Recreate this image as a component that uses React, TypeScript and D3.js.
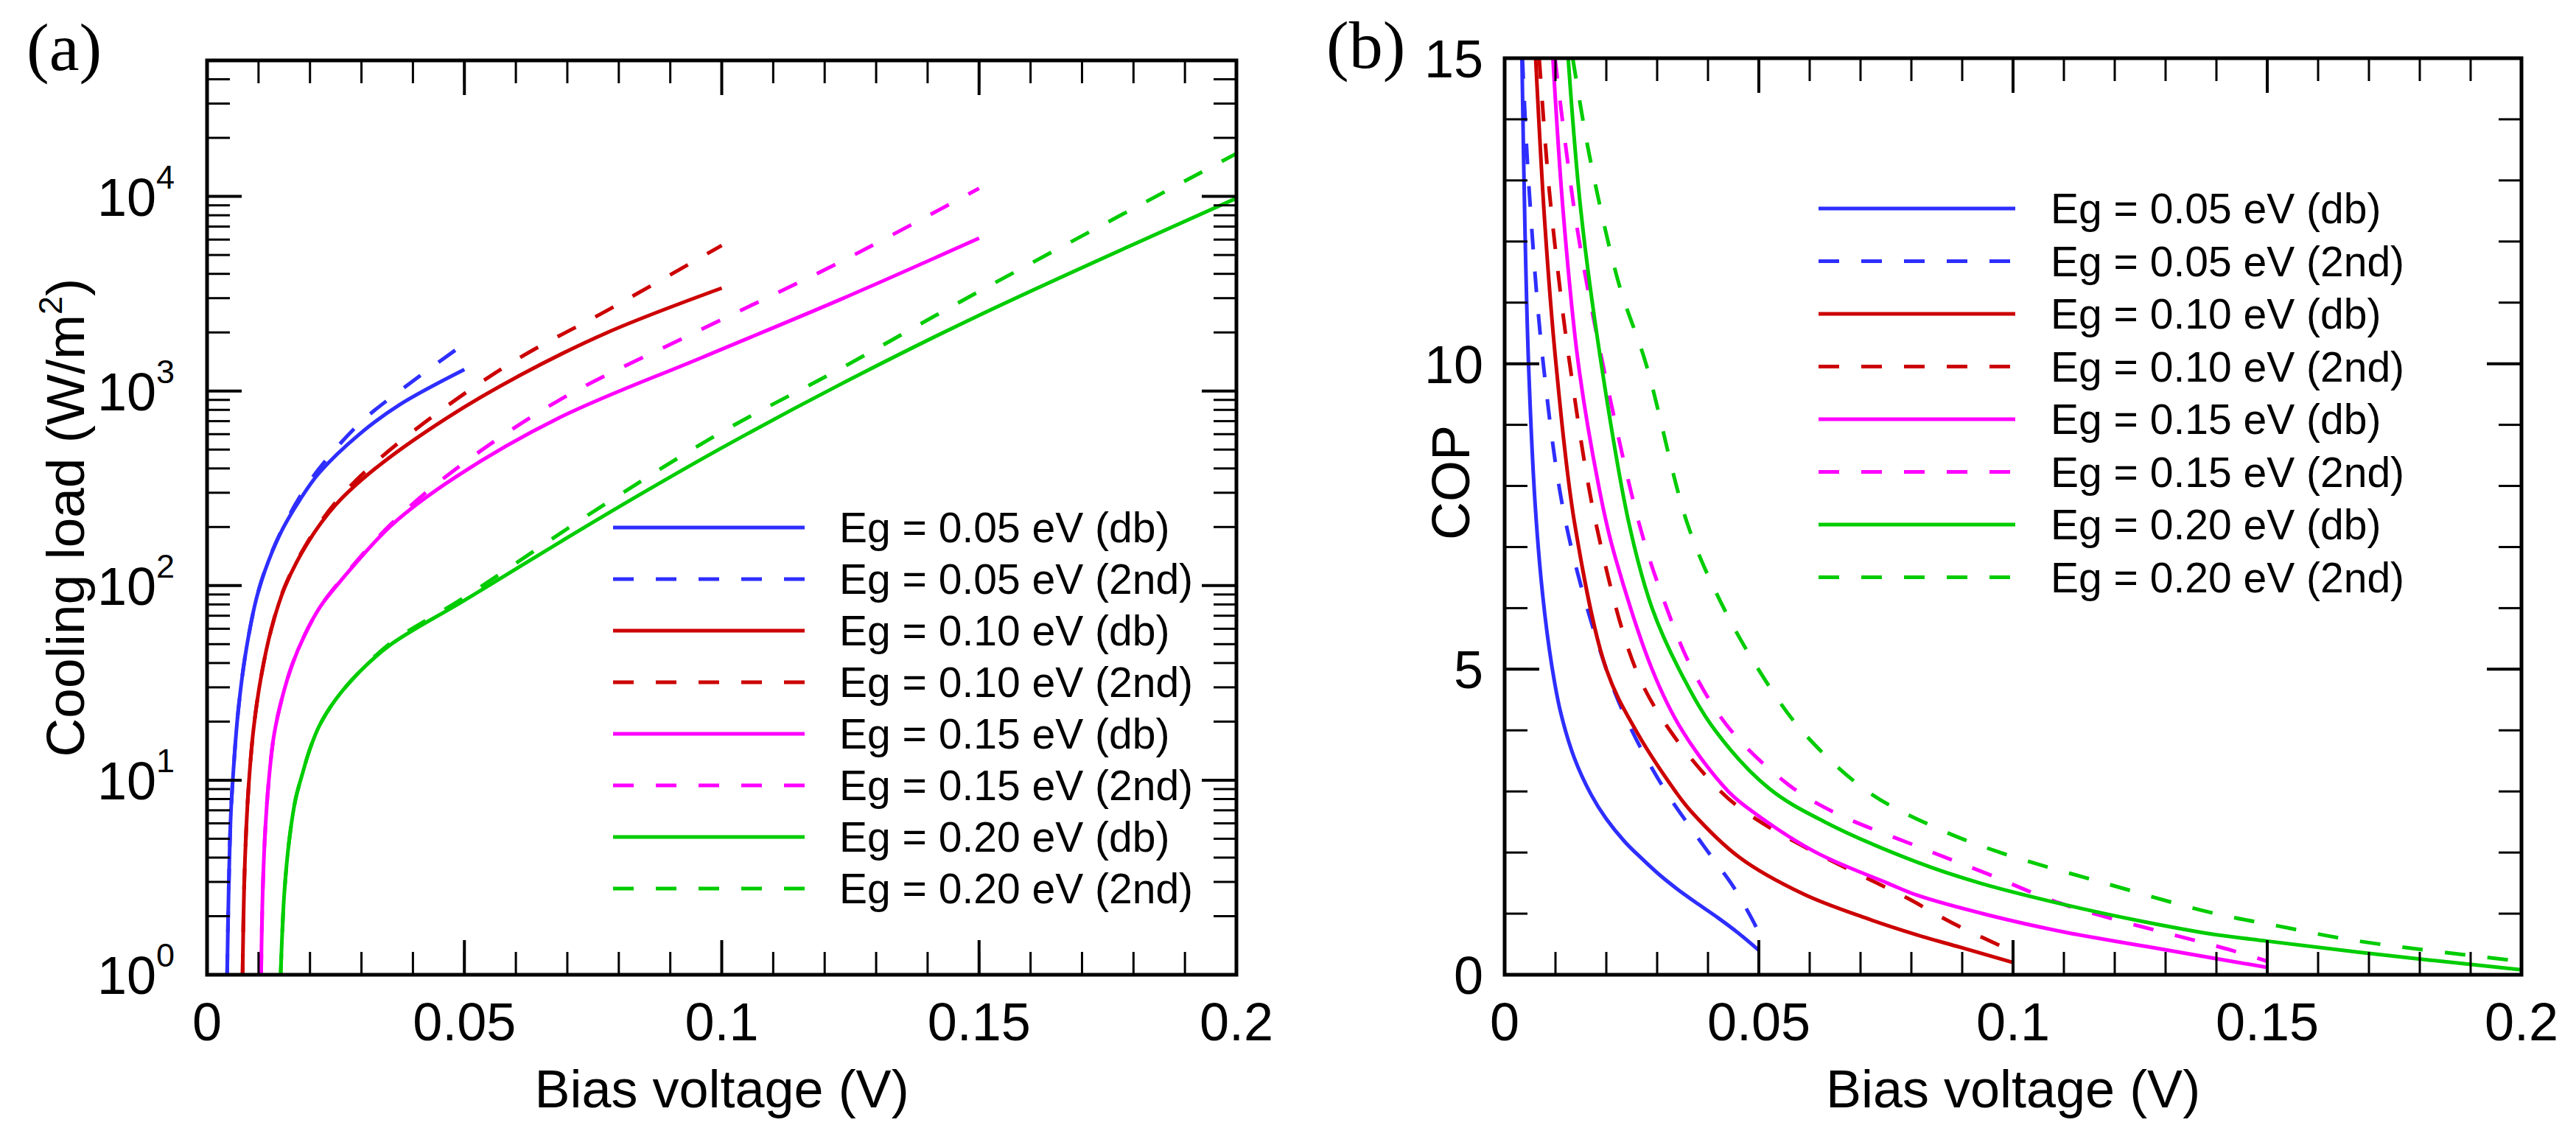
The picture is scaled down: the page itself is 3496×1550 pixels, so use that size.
import React from 'react';
import * as d3 from 'd3';

type Pt = [number, number];

// (a) cooling load (W/m^2) vs bias voltage (V)
const load05db: Pt[] = [[0.0039, 1], [0.0042, 2.7], [0.0046, 6.5], [0.0051, 11], [0.006, 22], [0.0075, 45], [0.0097, 88], [0.012, 135], [0.0148, 198], [0.018, 275], [0.0218, 380], [0.0296, 600], [0.0374, 850], [0.05, 1290]];
const load05nd: Pt[] = [[0.0039, 1], [0.0042, 2.7], [0.0046, 6.5], [0.0051, 11], [0.006, 22], [0.0075, 45], [0.0097, 88], [0.012, 136], [0.0148, 200], [0.018, 285], [0.0218, 400], [0.0296, 680], [0.0374, 1000], [0.05, 1750]];
const load10db: Pt[] = [[0.0069, 1], [0.0072, 2.8], [0.0076, 5.5], [0.0081, 9.5], [0.009, 18], [0.0105, 34], [0.0125, 60], [0.0151, 98], [0.0195, 165], [0.025, 260], [0.0327, 400], [0.0467, 730], [0.0607, 1200], [0.0778, 2000], [0.1, 3380]];
const load10nd: Pt[] = [[0.0069, 1], [0.0072, 2.8], [0.0076, 5.5], [0.0081, 9.5], [0.009, 18], [0.0105, 34], [0.0125, 60], [0.0151, 99], [0.0195, 167], [0.025, 268], [0.0327, 430], [0.0467, 840], [0.0607, 1480], [0.0778, 2600], [0.1, 5600]];
const load15db: Pt[] = [[0.0105, 1], [0.0108, 2.6], [0.0113, 5.5], [0.012, 10], [0.013, 17], [0.0145, 26], [0.0165, 39], [0.019, 56], [0.022, 78], [0.026, 106], [0.0358, 204], [0.0482, 360], [0.0685, 730], [0.0965, 1500], [0.123, 2950], [0.15, 6100]];
const load15nd: Pt[] = [[0.0105, 1], [0.0108, 2.6], [0.0113, 5.5], [0.012, 10], [0.013, 17], [0.0145, 26], [0.0165, 39], [0.019, 56], [0.022, 78], [0.026, 107], [0.0358, 208], [0.0482, 395], [0.0685, 900], [0.0965, 2100], [0.123, 4600], [0.15, 11000]];
const load20db: Pt[] = [[0.0143, 1], [0.015, 2.6], [0.016, 5], [0.0172, 8], [0.0184, 10.5], [0.02, 14.5], [0.0218, 19], [0.025, 26], [0.0296, 36], [0.0358, 50], [0.05, 84], [0.0763, 222], [0.1, 510], [0.123, 1080], [0.15, 2450], [0.2, 9800]];
const load20nd: Pt[] = [[0.0143, 1], [0.015, 2.6], [0.016, 5], [0.0172, 8], [0.0184, 10.5], [0.02, 14.5], [0.0218, 19], [0.025, 26], [0.0296, 36], [0.0358, 51], [0.05, 87], [0.0763, 252], [0.1, 615], [0.123, 1300], [0.15, 3250], [0.2, 16600]];

// (b) COP vs bias voltage (V)
const cop05db: Pt[] = [[0.0034, 15], [0.004, 12.2], [0.0047, 10], [0.006, 7.7], [0.0075, 6.2], [0.0092, 5.1], [0.011, 4.3], [0.0137, 3.55], [0.017, 2.95], [0.02, 2.55], [0.0236, 2.18], [0.027, 1.9], [0.0304, 1.64], [0.034, 1.4], [0.038, 1.16], [0.042, 0.93], [0.046, 0.68], [0.05, 0.4]];
const cop05nd: Pt[] = [[0.0035, 15], [0.0047, 13], [0.0076, 10], [0.0121, 7.37], [0.02, 5], [0.025, 4], [0.0317, 3], [0.037, 2.36], [0.0408, 1.92], [0.045, 1.44], [0.0496, 0.76], [0.05, 0.68]];
const cop10db: Pt[] = [[0.0061, 15], [0.0079, 12.3], [0.0101, 10], [0.0138, 7.37], [0.02, 5], [0.0258, 4], [0.0336, 3], [0.0366, 2.68], [0.0462, 1.92], [0.0588, 1.32], [0.0713, 0.92], [0.0812, 0.65], [0.0896, 0.45], [0.1, 0.2]];
const cop10nd: Pt[] = [[0.0068, 15], [0.0086, 13], [0.0105, 11.5], [0.0128, 10], [0.018, 7.37], [0.0258, 5], [0.0325, 4], [0.0425, 3], [0.0485, 2.6], [0.0588, 2.1], [0.0747, 1.44], [0.0793, 1.25], [0.088, 0.85], [0.1, 0.38]];
const cop15db: Pt[] = [[0.0095, 15], [0.0115, 12.5], [0.0145, 10], [0.0185, 8], [0.0212, 7.0], [0.029, 5], [0.0349, 4], [0.044, 3], [0.0496, 2.62], [0.0613, 2.0], [0.0753, 1.5], [0.0812, 1.3], [0.095, 0.98], [0.11, 0.7], [0.125, 0.48], [0.1388, 0.28], [0.15, 0.12]];
const cop15nd: Pt[] = [[0.0099, 15], [0.0141, 12.3], [0.0193, 10], [0.0265, 7.37], [0.031, 6.2], [0.0369, 5], [0.0445, 4], [0.056, 3.1], [0.065, 2.65], [0.0812, 2.1], [0.095, 1.65], [0.11, 1.15], [0.143, 0.4], [0.15, 0.22]];
const cop20db: Pt[] = [[0.0125, 15], [0.015, 12.5], [0.019, 10], [0.0245, 7.37], [0.029, 6], [0.0343, 5], [0.0414, 4], [0.052, 3.05], [0.063, 2.5], [0.0812, 1.84], [0.0935, 1.5], [0.11, 1.15], [0.125, 0.88], [0.1388, 0.67], [0.15, 0.55], [0.1678, 0.37], [0.2, 0.08]];
const cop20nd: Pt[] = [[0.0134, 15], [0.0167, 13.4], [0.0225, 11.3], [0.0278, 10], [0.036, 7.37], [0.0425, 6.1], [0.0499, 5], [0.0584, 4], [0.0714, 3], [0.085, 2.4], [0.0975, 2], [0.118, 1.5], [0.1388, 1.02], [0.152, 0.8], [0.168, 0.55], [0.2, 0.22]];

const legendLabels = [
  'Eg = 0.05 eV (db)', 'Eg = 0.05 eV (2nd)',
  'Eg = 0.10 eV (db)', 'Eg = 0.10 eV (2nd)',
  'Eg = 0.15 eV (db)', 'Eg = 0.15 eV (2nd)',
  'Eg = 0.20 eV (db)', 'Eg = 0.20 eV (2nd)',
];
const gapColors = ['#2e2eff', '#cc0000', '#ff00ff', '#00cc00'];
const loadSeries = [load05db, load05nd, load10db, load10nd, load15db, load15nd, load20db, load20nd];
const copSeries = [cop05db, cop05nd, cop10db, cop10nd, cop15db, cop15nd, cop20db, cop20nd];

const xMajor = [0, 0.05, 0.1, 0.15, 0.2];
const xTickLabels = ['0', '0.05', '0.1', '0.15', '0.2'];
const logMajor = [1, 10, 100, 1000, 10000];
const logExponents = ['0', '1', '2', '3', '4'];
const copMajor = [0, 5, 10, 15];
const copTickLabels = ['0', '5', '10', '15'];

const SANS = '"Liberation Sans", Arial, sans-serif';
const SERIF = '"Liberation Serif", "Times New Roman", serif';
const DASH = '28 30';

type Box = { left: number; right: number; top: number; bottom: number };
const boxA: Box = { left: 281, right: 1678, top: 82, bottom: 1323 };
const boxB: Box = { left: 2042, right: 3422, top: 79, bottom: 1323 };

const MAJ = 47;
const MIN = 31;

const Frame = ({ box, xs, ys, xMaj, xMin, yMaj, yMin }: {
  box: Box;
  xs: (v: number) => number;
  ys: (v: number) => number;
  xMaj: number[];
  xMin: number[];
  yMaj: number[];
  yMin: number[];
}) => {
  const ticks: React.ReactNode[] = [];
  const push = (k: string, x1: number, y1: number, x2: number, y2: number, w: number) =>
    ticks.push(<line key={k} x1={x1} y1={y1} x2={x2} y2={y2} stroke="#000" strokeWidth={w} />);
  xMin.forEach((v, i) => {
    const x = xs(v);
    push(`xb${i}`, x, box.bottom, x, box.bottom - MIN, 3);
    push(`xt${i}`, x, box.top, x, box.top + MIN, 3);
  });
  xMaj.forEach((v, i) => {
    const x = xs(v);
    push(`Xb${i}`, x, box.bottom, x, box.bottom - MAJ, 4);
    push(`Xt${i}`, x, box.top, x, box.top + MAJ, 4);
  });
  yMin.forEach((v, i) => {
    const y = ys(v);
    push(`yl${i}`, box.left, y, box.left + MIN, y, 3);
    push(`yr${i}`, box.right, y, box.right - MIN, y, 3);
  });
  yMaj.forEach((v, i) => {
    const y = ys(v);
    push(`Yl${i}`, box.left, y, box.left + MAJ, y, 4);
    push(`Yr${i}`, box.right, y, box.right - MAJ, y, 4);
  });
  return (
    <g>
      {ticks}
      <rect x={box.left} y={box.top} width={box.right - box.left} height={box.bottom - box.top}
        fill="none" stroke="#000" strokeWidth={5} />
    </g>
  );
};

const Legend = ({ x0, x1, tx, y0, dy }: { x0: number; x1: number; tx: number; y0: number; dy: number }) => (
  <g>
    {legendLabels.map((lab, i) => {
      const y = y0 + i * dy;
      return (
        <g key={lab}>
          <line x1={x0} x2={x1} y1={y} y2={y} stroke={gapColors[Math.floor(i / 2)]} strokeWidth={5}
            strokeDasharray={i % 2 ? DASH : undefined} />
          <text x={tx} y={y + 20} fontSize={57} fontFamily={SANS}>{lab}</text>
        </g>
      );
    })}
  </g>
);

export default function App() {
  const xa = d3.scaleLinear().domain([0, 0.2]).range([boxA.left, boxA.right]);
  const ya = d3.scaleLog().domain([1, 5e4]).range([boxA.bottom, boxA.top]);
  const xb = d3.scaleLinear().domain([0, 0.2]).range([boxB.left, boxB.right]);
  const yb = d3.scaleLinear().domain([0, 15]).range([boxB.bottom, boxB.top]);

  const xMinor = xa.ticks(20);
  const logMinor: number[] = [];
  logMajor.forEach((d) => d3.range(2, 10).forEach((m) => { if (d * m <= 5e4) logMinor.push(d * m); }));
  const copMinor = yb.ticks(15);

  const smooth = d3.curveCatmullRom.alpha(0.5);
  const lineA = d3.line<Pt>().x((d) => xa(d[0])).y((d) => ya(d[1])).curve(smooth);
  const lineB = d3.line<Pt>().x((d) => xb(d[0])).y((d) => yb(d[1])).curve(smooth);

  return (
    <svg width={3496} height={1550} style={{ position: 'absolute', left: 0, top: 0, background: '#fff' }}>
      <defs>
        <clipPath id="clipA"><rect x={boxA.left} y={boxA.top} width={boxA.right - boxA.left} height={boxA.bottom - boxA.top} /></clipPath>
        <clipPath id="clipB"><rect x={boxB.left} y={boxB.top} width={boxB.right - boxB.left} height={boxB.bottom - boxB.top} /></clipPath>
      </defs>

      {/* panel (a) */}
      <text x={36} y={95} fontSize={92} fontFamily={SERIF}>(a)</text>
      <g clipPath="url(#clipA)">
        {loadSeries.map((s, i) => (
          <path key={i} d={lineA(s) || ''} fill="none" stroke={gapColors[Math.floor(i / 2)]} strokeWidth={5}
            strokeDasharray={i % 2 ? DASH : undefined} />
        ))}
      </g>
      <Frame box={boxA} xs={xa} ys={ya} xMaj={xMajor} xMin={xMinor} yMaj={logMajor} yMin={logMinor} />
      <Legend x0={832} x1={1092} tx={1139} y0={716} dy={70} />
      {xMajor.map((v, i) => (
        <text key={i} x={xa(v)} y={1412} textAnchor="middle" fontSize={72} fontFamily={SANS}>{xTickLabels[i]}</text>
      ))}
      {logMajor.map((v, i) => (
        <text key={i} x={237} y={ya(v) + 26} textAnchor="end" fontSize={72} fontFamily={SANS}>
          10<tspan dy={-37} fontSize={45}>{logExponents[i]}</tspan>
        </text>
      ))}
      <text x={(boxA.left + boxA.right) / 2} y={1503} textAnchor="middle" fontSize={72} fontFamily={SANS}>Bias voltage (V)</text>
      <text transform={`translate(114,${(boxA.top + boxA.bottom) / 2}) rotate(-90)`} textAnchor="middle" fontSize={73} fontFamily={SANS}>
        Cooling load (W/m<tspan dy={-30} fontSize={45}>2</tspan><tspan dy={30}>)</tspan>
      </text>

      {/* panel (b) */}
      <text x={1800} y={92} fontSize={92} fontFamily={SERIF}>(b)</text>
      <g clipPath="url(#clipB)">
        {copSeries.map((s, i) => (
          <path key={i} d={lineB(s) || ''} fill="none" stroke={gapColors[Math.floor(i / 2)]} strokeWidth={5}
            strokeDasharray={i % 2 ? DASH : undefined} />
        ))}
      </g>
      <Frame box={boxB} xs={xb} ys={yb} xMaj={xMajor} xMin={xMinor} yMaj={copMajor} yMin={copMinor} />
      <Legend x0={2468} x1={2735} tx={2783} y0={283} dy={71.5} />
      {xMajor.map((v, i) => (
        <text key={i} x={xb(v)} y={1412} textAnchor="middle" fontSize={72} fontFamily={SANS}>{xTickLabels[i]}</text>
      ))}
      {copMajor.map((v, i) => (
        <text key={i} x={2013} y={yb(v) + 26} textAnchor="end" fontSize={72} fontFamily={SANS}>{copTickLabels[i]}</text>
      ))}
      <text x={(boxB.left + boxB.right) / 2} y={1503} textAnchor="middle" fontSize={72} fontFamily={SANS}>Bias voltage (V)</text>
      <text transform="translate(1994,655) rotate(-90)" textAnchor="middle" fontSize={72} fontFamily={SANS}>COP</text>
    </svg>
  );
}
